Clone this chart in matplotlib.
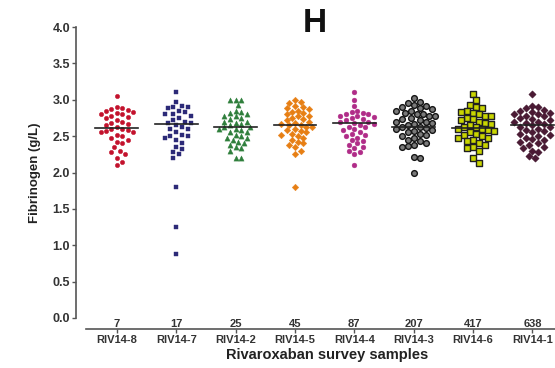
import matplotlib

matplotlib.use("Agg")
import matplotlib.pyplot as plt
import numpy as np

plt.rcParams["font.family"] = ["Liberation Sans", "DejaVu Sans"]

samples = ["RIV14-8", "RIV14-7", "RIV14-2", "RIV14-5", "RIV14-4", "RIV14-3", "RIV14-6", "RIV14-1"]
counts = ["7", "17", "25", "45", "87", "207", "417", "638"]

riv14_8 = [3.05, 2.9, 2.88, 2.87, 2.86, 2.85, 2.83, 2.82, 2.8, 2.8, 2.78, 2.76, 2.75, 2.72,
           2.7, 2.68, 2.66, 2.65, 2.62, 2.6, 2.6, 2.58, 2.57, 2.55, 2.55, 2.52, 2.5, 2.48,
           2.45, 2.42, 2.4, 2.35, 2.3, 2.28, 2.25, 2.2, 2.15, 2.1]
riv14_7 = [3.1, 2.97, 2.92, 2.9, 2.9, 2.88, 2.85, 2.83, 2.8, 2.8, 2.78, 2.75, 2.72, 2.7,
           2.68, 2.68, 2.65, 2.62, 2.6, 2.6, 2.55, 2.52, 2.5, 2.5, 2.48, 2.45, 2.4, 2.35,
           2.32, 2.28, 2.25, 2.2, 1.8, 1.25, 0.88]
riv14_2 = [3.0, 3.0, 3.0, 2.93, 2.85, 2.83, 2.82, 2.8, 2.78, 2.77, 2.75, 2.73, 2.7, 2.7,
           2.68, 2.66, 2.65, 2.63, 2.62, 2.6, 2.6, 2.58, 2.55, 2.55, 2.52, 2.5, 2.48, 2.47,
           2.45, 2.42, 2.4, 2.38, 2.35, 2.33, 2.3, 2.2, 2.2]
riv14_5 = [3.0, 2.97, 2.95, 2.92, 2.9, 2.88, 2.87, 2.85, 2.83, 2.82, 2.8, 2.78, 2.77, 2.75,
           2.73, 2.72, 2.7, 2.68, 2.67, 2.65, 2.65, 2.63, 2.62, 2.6, 2.58, 2.57, 2.55, 2.53,
           2.52, 2.5, 2.48, 2.45, 2.42, 2.4, 2.38, 2.35, 2.3, 2.25, 1.8]
riv14_4 = [3.1, 3.0, 2.92, 2.85, 2.83, 2.82, 2.8, 2.8, 2.78, 2.77, 2.76, 2.75, 2.73, 2.72,
           2.7, 2.7, 2.68, 2.67, 2.65, 2.63, 2.62, 2.6, 2.58, 2.55, 2.53, 2.52, 2.5, 2.48,
           2.45, 2.43, 2.4, 2.38, 2.35, 2.33, 2.3, 2.28, 2.25, 2.1]
riv14_3 = [3.02, 2.97, 2.95, 2.93, 2.92, 2.9, 2.88, 2.87, 2.85, 2.84, 2.82, 2.8, 2.8, 2.78,
           2.77, 2.75, 2.74, 2.72, 2.7, 2.7, 2.68, 2.66, 2.65, 2.63, 2.62, 2.61, 2.6, 2.58,
           2.57, 2.55, 2.53, 2.52, 2.5, 2.48, 2.45, 2.43, 2.4, 2.38, 2.36, 2.35, 2.21, 2.2, 2.0]
riv14_6 = [3.08, 3.0, 2.93, 2.9, 2.88, 2.85, 2.83, 2.82, 2.8, 2.78, 2.77, 2.75, 2.73, 2.72,
           2.7, 2.68, 2.67, 2.65, 2.63, 2.62, 2.6, 2.6, 2.58, 2.57, 2.55, 2.53, 2.52, 2.5,
           2.48, 2.47, 2.45, 2.43, 2.4, 2.38, 2.35, 2.33, 2.3, 2.2, 2.13]
riv14_1 = [3.08, 2.92, 2.9, 2.88, 2.86, 2.85, 2.83, 2.82, 2.8, 2.8, 2.78, 2.77, 2.75, 2.74,
           2.72, 2.7, 2.7, 2.68, 2.67, 2.65, 2.63, 2.62, 2.6, 2.58, 2.57, 2.55, 2.53, 2.52,
           2.5, 2.48, 2.46, 2.45, 2.42, 2.4, 2.38, 2.35, 2.33, 2.3, 2.28, 2.22, 2.2]
centre_lines = [2.61, 2.67, 2.63, 2.65, 2.68, 2.62, 2.61, 2.65]

groups = [riv14_8, riv14_7, riv14_2, riv14_5, riv14_4, riv14_3, riv14_6, riv14_1]
markers = ["o", "s", "^", "D", "o", "o", "s", "D"]
sizes = [10, 12, 14, 11, 12, 17, 15, 14]
faces = ["#c3122d", "#2c2a78", "#2f7f3c", "#e77f14", "#b02c88", "#7a7a7a", "#c9d500", "#4b1a34"]
edges = ["#c3122d", "#2c2a78", "#2f7f3c", "#e77f14", "#b02c88", "#151515", "#202020", "#3a1028"]

# pixel scale of the data, used only to lay points out side by side
PX_X, PX_Y = 59.4, 72.75
spacing = [5.4, 5.8, 5.6, 5.6, 5.6, 6.0, 6.0, 6.0]


def swarm_offsets(values, diam):
    order = np.argsort(values)[::-1]
    placed = []
    offs = np.zeros(len(values))
    for idx in order:
        y = values[idx] * PX_Y
        for k in range(40):
            cands = [0.0] if k == 0 else [k * diam * 0.5, -k * diam * 0.5]
            ok = None
            for cx in cands:
                if all((cx - px) ** 2 + (y - py) ** 2 >= diam ** 2 for px, py in placed):
                    ok = cx
                    break
            if ok is not None:
                placed.append((ok, y))
                offs[idx] = ok / PX_X
                break
    return offs


fig = plt.figure(figsize=(5.55, 3.68), dpi=100)
ax = fig.add_axes([86 / 555, 50 / 368, 482 / 555, 291 / 368])

for i, vals in enumerate(groups):
    vals = np.array(vals)
    x = i + swarm_offsets(vals, spacing[i])
    lw = 1.0 if i in (5, 6) else 0.3
    ax.scatter(x, vals, s=sizes[i], marker=markers[i], facecolor=faces[i], edgecolor=edges[i],
               linewidth=lw, zorder=3)
    ax.plot([i - 0.36, i + 0.36], [centre_lines[i], centre_lines[i]], color="#222222",
            lw=1.2, zorder=4)
    ax.text(i, -0.012, counts[i], ha="center", va="top", fontsize=8, color="#333333",
            fontweight="bold")

ax.set_xlim(-0.52, 7.6)
ax.set_ylim(0, 4.0)
ax.set_yticks(np.arange(0, 4.01, 0.5))
ax.set_yticklabels([f"{v:.1f}" for v in np.arange(0, 4.01, 0.5)])
ax.set_xticks(range(len(samples)))
ax.set_xticklabels(samples)

for side in ("top", "right"):
    ax.spines[side].set_visible(False)
# GraphPad-style detached axes; offsets are in points
ax.spines["left"].set_position(("outward", 7))
ax.spines["bottom"].set_position(("outward", 8))
for side in ("left", "bottom"):
    ax.spines[side].set_color("#555555")
    ax.spines[side].set_linewidth(1.2)
ax.tick_params(axis="both", direction="out", length=3, width=1, color="#555555", pad=1.5)
for lbl in ax.get_yticklabels():
    lbl.set_fontweight("bold")
    lbl.set_fontsize(9)
    lbl.set_color("#333333")
for lbl in ax.get_xticklabels():
    lbl.set_fontweight("bold")
    lbl.set_fontsize(8)
    lbl.set_color("#333333")

ax.set_ylabel("Fibrinogen (g/L)", fontsize=9.5, fontweight="bold", color="#222222", labelpad=8)
ax.set_xlabel("Rivaroxaban survey samples", fontsize=10.5, fontweight="bold",
              color="#222222", labelpad=2)
fig.text(315 / 555, 1 - 24 / 368, "H", ha="center", va="center", fontsize=24,
         fontweight="bold", color="#111111")

fig.savefig("out.png", dpi=100)
